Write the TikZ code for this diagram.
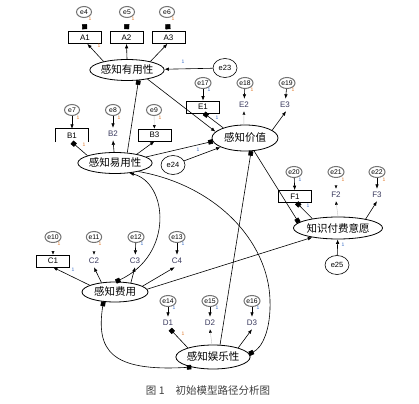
\documentclass[tikz,border=0pt]{standalone}
\usepackage{fontspec}
\setmainfont{Liberation Sans}
\newfontfamily\cjk{Noto Sans CJK SC}
\usetikzlibrary{shapes.geometric,arrows.meta}
\definecolor{lblc}{HTML}{3A3A5E}
\definecolor{oc}{HTML}{E0782A}
\definecolor{bc}{HTML}{3A6FC8}
\begin{document}
\begin{tikzpicture}[x=1pt,y=-1pt,
  lat/.style={ellipse,draw,line width=0.8pt,inner sep=0pt,font=\cjk\fontsize{10.5}{11}\selectfont},
  obs/.style={draw,line width=0.6pt,minimum width=33pt,minimum height=12pt,inner sep=0pt,font=\fontsize{8}{9}\selectfont},
  obsn/.style={minimum width=14pt,minimum height=12pt,inner sep=0pt,font=\fontsize{8}{9}\selectfont,text=lblc},
  err/.style={ellipse,draw=black!55,line width=1pt,minimum width=15pt,minimum height=11pt,inner sep=0pt,font=\fontsize{6.8}{7}\selectfont},
  errb/.style={ellipse,draw,line width=0.6pt,minimum width=24pt,minimum height=19pt,inner sep=0pt,font=\fontsize{7.5}{8}\selectfont},
  arr/.style={line width=0.6pt,-{Latex[length=4.5pt,width=3.5pt]}},
  sqa/.style={line width=0.6pt,-{Square[length=4.5pt,width=4.5pt]}},
  faint/.style={draw=gray!45,line width=0.4pt,-{Latex[length=3.5pt,width=3pt,black]}},
  tiponly/.style={draw=white,line width=0.4pt,-{Latex[length=3.5pt,width=3pt,black]}},
  sqonly/.style={draw=white,line width=0.4pt,-{Square[length=5pt,width=5pt,black]}},
  oneo/.style={font=\fontsize{5}{5}\selectfont,inner sep=0pt,text=oc},
  oneb/.style={font=\fontsize{5}{5}\selectfont,inner sep=0pt,text=bc}]
\fill[white] (0,0) rectangle (419,403);
\useasboundingbox (0,0) rectangle (419,403);

% latent variables
\node[lat,minimum width=67pt,minimum height=21pt] (U) at (127,70) {感知有用性};
\node[lat,minimum width=68pt,minimum height=21pt] (EU) at (115,163) {感知易用性};
\node[lat,minimum width=66pt,minimum height=26pt] (V) at (245,138) {感知价值};
\node[lat,minimum width=70pt,minimum height=22pt] (W) at (338,228) {知识付费意愿};
\node[lat,minimum width=66pt,minimum height=20pt] (C) at (115,292) {感知费用};
\node[lat,minimum width=68pt,minimum height=24pt] (P) at (213,357) {感知娱乐性};

% big error terms
\node[errb] (e23) at (225,68) {e23};
\node[errb] (e24) at (173,165) {e24};
\node[errb] (e25) at (337,265) {e25};

% indicators
\node[obs] (A1) at (85,37.5) {A1};
\node[obs] (A2) at (126.5,37.5) {A2};
\node[obs] (A3) at (168.5,37.5) {A3};
\node[minimum width=33pt,minimum height=13pt,inner sep=0pt,font=\fontsize{8}{9}\selectfont] (B1) at (72,135.5) {B1};
\draw[line width=0.6pt] (B1.south west) -- (B1.north west) -- (B1.north east) -- (B1.south east);
\node[obsn] (B2) at (113,134) {B2};
\node[obs] (B3) at (154.5,135) {B3};
\node[obs] (E1) at (203,107) {E1};
\node[obsn] (E2) at (244,105) {E2};
\node[obsn] (E3) at (285,105) {E3};
\node[obs] (F1) at (295,196.5) {F1};
\node[obsn] (F2) at (336,195) {F2};
\node[obsn] (F3) at (377,195) {F3};
\node[obs] (C1) at (53,261) {C1};
\node[obsn] (C2) at (94,261) {C2};
\node[obsn] (C3) at (135,261) {C3};
\node[obsn] (C4) at (177,261) {C4};
\node[obsn] (D1) at (168,323) {D1};
\node[obsn] (D2) at (210,323) {D2};
\node[obsn] (D3) at (252,323) {D3};

% small error terms
\node[err] (e4) at (84,12) {e4};
\node[err] (e5) at (127,12) {e5};
\node[err] (e6) at (167,12) {e6};
\node[err] (e7) at (72,110) {e7};
\node[err] (e8) at (113,110) {e8};
\node[err] (e9) at (154,110) {e9};
\node[err] (e17) at (203,83) {e17};
\node[err] (e18) at (245,83) {e18};
\node[err] (e19) at (287,83) {e19};
\node[err] (e20) at (294,172) {e20};
\node[err] (e21) at (336,172) {e21};
\node[err] (e22) at (377,172) {e22};
\node[err] (e10) at (53,237) {e10};
\node[err] (e11) at (94,237) {e11};
\node[err] (e12) at (136,237) {e12};
\node[err] (e13) at (177,237) {e13};
\node[err] (e14) at (168,301) {e14};
\node[err] (e15) at (210,301) {e15};
\node[err] (e16) at (252,301) {e16};

% error -> indicator
\draw[sqonly,shorten >=2pt] (e4) -- (A1);
\draw[sqonly,shorten >=2pt] (e5) -- (A2);
\draw[sqonly,shorten >=2pt] (e6) -- (A3);
\draw[arr] (e7) -- (B1);
\draw[arr] (e8) -- (B2);
\draw[faint] (e9) -- (B3);
\draw[arr] (e17) -- (E1);
\draw[arr] (e18) -- (E2);
\draw[arr] (e19) -- (E3);
\draw[arr] (e20) -- (F1);
\draw[tiponly] (e21) -- (F2);
\draw[arr] (e22) -- (F3);
\draw[tiponly] (e10) -- (C1);
\draw[tiponly] (e11) -- (C2);
\draw[arr] (e12) -- (C3);
\draw[arr] (e13) -- (C4);
\draw[arr] (e14) -- (D1);
\draw[arr] (e15) -- (D2);
\draw[arr] (e16) -- (D3);

% latent -> indicators
\draw[arr] (U.160) -- (A1.-70);
\draw[arr] (U.north) -- (A2.south);
\draw[arr] (U.20) -- (A3.-100);
\draw[sqa] (EU.165) -- (B1.south);
\draw[arr] (EU.95) -- (B2.south);
\draw[arr] (EU.22) -- (B3.south);
\draw[sqa] (V.155) -- (E1.-80);
\draw[faint] (V.95) -- (E2.south);
\draw[arr] (V.16) -- (E3.-80);
\draw[sqa] (W.160) -- (F1.-75);
\draw[faint] (W.north) -- (F2.south);
\draw[arr] (W.18) -- (F3.south);
\draw[arr] (C.165) -- (C1.south);
\draw[arr] (C.145) -- (C2.south);
\draw[arr] (C.30) -- (C3.south);
\draw[arr] (C.12) -- (C4.-110);
\draw[sqa] (P.160) -- (D1.-70);
\draw[faint] (P.95) -- (D2.south);
\draw[arr] (P.20) -- (D3.south);

% structural paths
\draw[arr] (e23) -- (U);
\draw[sqa] (EU.40) -- (U.-42);
\draw[arr] (U.-24) -- (V.168);
\draw[sqa] (EU.11) -- (V.186);
\draw[arr] (e24) -- (V);
\draw[sqa] (P.60) -- (V.-65);
\draw[sqa] (V.-55) -- (W.172);
\draw[arr] (C.5) -- (W.200);
\draw[arr] (e25) -- (W);

% covariances
\draw[line width=0.6pt,{Latex[length=4.5pt,width=3.5pt]}-{Square[length=4.5pt,width=4.5pt]}] (EU.-35) .. controls (168,183) and (174,255) .. (C.85);
\draw[line width=0.6pt,-{Square[length=4.5pt,width=4.5pt]}] (EU.-20) .. controls (215,185) and (268,240) .. (270,300) .. controls (271,330) and (262,348) .. (P.5);
\draw[line width=0.6pt,{Square[length=4.5pt,width=4.5pt]}-{Square[length=4.5pt,width=4.5pt]}] (C.-140) .. controls (96,350) and (110,372) .. (P.-155);

% regression weight labels
\node[oneo] at (90,19) {1};
\node[oneo] at (133,19) {1};
\node[oneo] at (173,19) {1};
\node[oneo] at (99,46) {1};
\node[oneb] at (183,62) {1};
\node[oneo] at (78,118) {1};
\node[oneo] at (119,118) {1};
\node[oneo] at (160,118) {1};
\node[oneo] at (84,145) {1};
\node[oneb] at (198,150) {1};
\node[oneb] at (209,90) {1};
\node[oneo] at (252,90) {1};
\node[oneo] at (293,90) {1};
\node[oneb] at (217,118) {1};
\node[oneb] at (300,180) {1};
\node[oneo] at (343,180) {1};
\node[oneo] at (384,180) {1};
\node[oneb] at (308,206) {1};
\node[oneb] at (343,245) {1};
\node[oneo] at (59,244) {1};
\node[oneo] at (100,244) {1};
\node[oneb] at (142,244) {1};
\node[oneb] at (183,244) {1};
\node[oneb] at (73,270) {1};
\node[oneb] at (174,308) {1};
\node[oneb] at (217,308) {1};
\node[oneb] at (258,308) {1};
\node[oneo] at (183,334) {1};

% caption
\node[font=\cjk\fontsize{10.5}{11}\selectfont,text=black!75,inner sep=0pt] (cap) at (208,391) {图 1\hspace{11pt}初始模型路径分析图};
\end{tikzpicture}
\end{document}
